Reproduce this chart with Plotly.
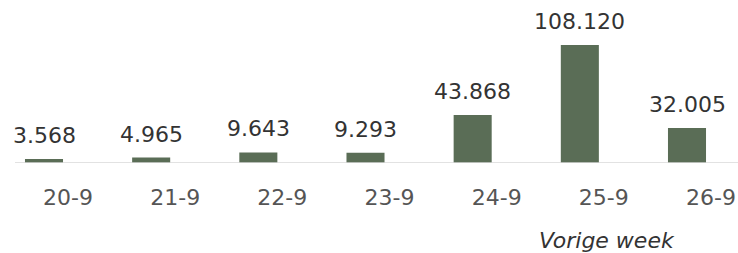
import plotly.graph_objects as go

categories = ["20-9", "21-9", "22-9", "23-9", "24-9", "25-9", "26-9"]
values = [3568, 4965, 9643, 9293, 43868, 108120, 32005]
footer = "Vorige week"

W, H = 738, 253
bar_color = "#5a6d56"
font_family = "DejaVu Sans"

fig = go.Figure()
fig.add_trace(go.Bar(
    x=list(range(len(categories))), y=values,
    marker=dict(color=bar_color, line=dict(width=0)),
    width=0.355, hoverinfo="skip",
))

for i, v in enumerate(values):
    fig.add_annotation(
        x=i, y=v, xref="x", yref="y",
        text=f"{v:,}".replace(",", "."),
        showarrow=False, yanchor="bottom", yshift=9,
        font=dict(family=font_family, size=22, color="#333333"),
    )

fig.add_annotation(
    x=677 / W, y=(163 - 240) / 163, xref="paper", yref="paper",
    text=f"<i>{footer}</i>", showarrow=False,
    xanchor="right", yanchor="middle",
    font=dict(family=font_family, size=22, color="#333333"),
)

fig.add_shape(type="line", xref="paper", yref="y",
              x0=15 / W, x1=1, y0=0, y1=0,
              line=dict(color="#d9d9d9", width=1.5))

px_per = (687 - 44) / 6
fig.update_layout(
    width=W, height=H,
    margin=dict(l=0, r=0, t=0, b=90, autoexpand=False),
    plot_bgcolor="white", paper_bgcolor="white",
    showlegend=False,
    xaxis=dict(
        range=[-44 / px_per, (W - 44) / px_per],
        tickmode="array", tickvals=list(range(len(categories))), ticktext=categories,
        showgrid=False, zeroline=False, showline=False, ticks="",
        ticklabelshift=24, ticklabelstandoff=19, automargin=False,
        tickfont=dict(family=font_family, size=22, color="#555555"),
    ),
    yaxis=dict(range=[0, 163 / (118 / 108120)], visible=False, automargin=False),
)

fig.write_html("out.html", config={"displayModeBar": False, "staticPlot": True})
with open("out.html", "r", encoding="utf-8") as f:
    html = f.read()
html = html.replace("<head>", "<head><style>html,body{margin:0;padding:0;overflow:hidden;}</style>", 1)
with open("out.html", "w", encoding="utf-8") as f:
    f.write(html)
